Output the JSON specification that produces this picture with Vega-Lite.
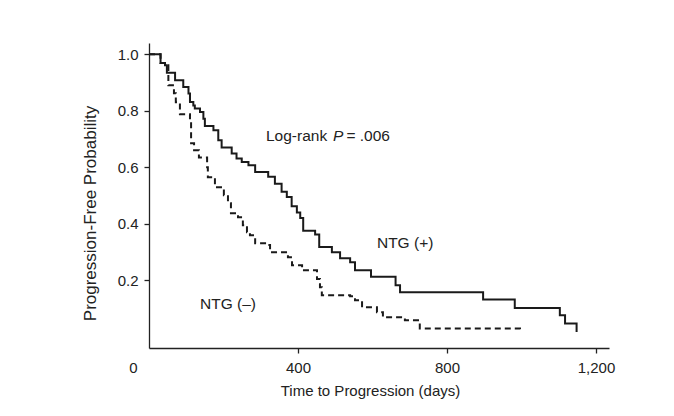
{
  "$schema": "https://vega.github.io/schema/vega-lite/v6.json",
  "width": 460,
  "height": 305,
  "autosize": {"type": "none"},
  "padding": {"left": 149, "top": 43, "right": 65, "bottom": 68},
  "background": "white",
  "config": {
    "view": {"stroke": null},
    "font": "Liberation Sans",
    "axis": {
      "grid": false,
      "domainColor": "#222222",
      "domainWidth": 1.3,
      "tickColor": "#222222",
      "tickWidth": 1.3,
      "tickSize": 5,
      "labelColor": "#222222",
      "labelFont": "Liberation Sans",
      "labelFontSize": 15,
      "labelFlush": false,
      "labelOverlap": false,
      "titleColor": "#222222",
      "titleFont": "Liberation Sans",
      "titleFontWeight": "normal",
      "titleFontSize": 15
    },
    "text": {"font": "Liberation Sans", "fontSize": 15.5, "color": "#222222"}
  },
  "datasets": {
    "km": [
      {"group": "NTG (+)", "time": 0, "surv": 1.0},
      {"group": "NTG (+)", "time": 31, "surv": 0.969},
      {"group": "NTG (+)", "time": 43, "surv": 0.961},
      {"group": "NTG (+)", "time": 48, "surv": 0.935},
      {"group": "NTG (+)", "time": 70, "surv": 0.908},
      {"group": "NTG (+)", "time": 92, "surv": 0.884},
      {"group": "NTG (+)", "time": 106, "surv": 0.861},
      {"group": "NTG (+)", "time": 110, "surv": 0.831},
      {"group": "NTG (+)", "time": 119, "surv": 0.819},
      {"group": "NTG (+)", "time": 123, "surv": 0.808},
      {"group": "NTG (+)", "time": 137, "surv": 0.796},
      {"group": "NTG (+)", "time": 146, "surv": 0.772},
      {"group": "NTG (+)", "time": 150, "surv": 0.746},
      {"group": "NTG (+)", "time": 173, "surv": 0.731},
      {"group": "NTG (+)", "time": 186, "surv": 0.696},
      {"group": "NTG (+)", "time": 195, "surv": 0.67},
      {"group": "NTG (+)", "time": 222, "surv": 0.649},
      {"group": "NTG (+)", "time": 235, "surv": 0.631},
      {"group": "NTG (+)", "time": 249, "surv": 0.619},
      {"group": "NTG (+)", "time": 267, "surv": 0.607},
      {"group": "NTG (+)", "time": 285, "surv": 0.583},
      {"group": "NTG (+)", "time": 320, "surv": 0.566},
      {"group": "NTG (+)", "time": 338, "surv": 0.542},
      {"group": "NTG (+)", "time": 356, "surv": 0.513},
      {"group": "NTG (+)", "time": 370, "surv": 0.495},
      {"group": "NTG (+)", "time": 383, "surv": 0.462},
      {"group": "NTG (+)", "time": 397, "surv": 0.44},
      {"group": "NTG (+)", "time": 406, "surv": 0.42},
      {"group": "NTG (+)", "time": 414, "surv": 0.375},
      {"group": "NTG (+)", "time": 446, "surv": 0.362},
      {"group": "NTG (+)", "time": 457, "surv": 0.318},
      {"group": "NTG (+)", "time": 491, "surv": 0.299},
      {"group": "NTG (+)", "time": 513, "surv": 0.278},
      {"group": "NTG (+)", "time": 540, "surv": 0.264},
      {"group": "NTG (+)", "time": 553, "surv": 0.235},
      {"group": "NTG (+)", "time": 596, "surv": 0.212},
      {"group": "NTG (+)", "time": 662, "surv": 0.182},
      {"group": "NTG (+)", "time": 674, "surv": 0.157},
      {"group": "NTG (+)", "time": 897, "surv": 0.132},
      {"group": "NTG (+)", "time": 982, "surv": 0.102},
      {"group": "NTG (+)", "time": 1103, "surv": 0.076},
      {"group": "NTG (+)", "time": 1117, "surv": 0.047},
      {"group": "NTG (+)", "time": 1148, "surv": 0.017},
      {"group": "NTG (−)", "time": 0, "surv": 1.0},
      {"group": "NTG (−)", "time": 31, "surv": 0.969},
      {"group": "NTG (−)", "time": 43, "surv": 0.961},
      {"group": "NTG (−)", "time": 52, "surv": 0.89},
      {"group": "NTG (−)", "time": 67, "surv": 0.862},
      {"group": "NTG (−)", "time": 72, "surv": 0.83},
      {"group": "NTG (−)", "time": 83, "surv": 0.788},
      {"group": "NTG (−)", "time": 110, "surv": 0.756},
      {"group": "NTG (−)", "time": 113, "surv": 0.685},
      {"group": "NTG (−)", "time": 121, "surv": 0.66},
      {"group": "NTG (−)", "time": 134, "surv": 0.635},
      {"group": "NTG (−)", "time": 156, "surv": 0.6},
      {"group": "NTG (−)", "time": 158, "surv": 0.565},
      {"group": "NTG (−)", "time": 177, "surv": 0.529},
      {"group": "NTG (−)", "time": 201, "surv": 0.501},
      {"group": "NTG (−)", "time": 212, "surv": 0.473},
      {"group": "NTG (−)", "time": 220, "surv": 0.437},
      {"group": "NTG (−)", "time": 239, "surv": 0.423},
      {"group": "NTG (−)", "time": 252, "surv": 0.395},
      {"group": "NTG (−)", "time": 263, "surv": 0.37},
      {"group": "NTG (−)", "time": 271, "surv": 0.359},
      {"group": "NTG (−)", "time": 285, "surv": 0.331},
      {"group": "NTG (−)", "time": 318, "surv": 0.325},
      {"group": "NTG (−)", "time": 325, "surv": 0.299},
      {"group": "NTG (−)", "time": 373, "surv": 0.281},
      {"group": "NTG (−)", "time": 384, "surv": 0.253},
      {"group": "NTG (−)", "time": 411, "surv": 0.235},
      {"group": "NTG (−)", "time": 451, "surv": 0.204},
      {"group": "NTG (−)", "time": 459, "surv": 0.175},
      {"group": "NTG (−)", "time": 464, "surv": 0.147},
      {"group": "NTG (−)", "time": 540, "surv": 0.143},
      {"group": "NTG (−)", "time": 553, "surv": 0.129},
      {"group": "NTG (−)", "time": 572, "surv": 0.104},
      {"group": "NTG (−)", "time": 612, "surv": 0.087},
      {"group": "NTG (−)", "time": 628, "surv": 0.069},
      {"group": "NTG (−)", "time": 687, "surv": 0.058},
      {"group": "NTG (−)", "time": 727, "surv": 0.029},
      {"group": "NTG (−)", "time": 990, "surv": 0.029},
      {"group": "NTG (−)", "time": 996, "surv": 0.017}
    ]
  },
  "layer": [
    {
      "data": {"name": "km"},
      "mark": {"type": "line", "interpolate": "step-after", "strokeWidth": 2, "color": "#1a1a1a"},
      "encoding": {
        "x": {
          "field": "time",
          "type": "quantitative",
          "scale": {"domain": [0, 1235], "nice": false, "zero": false},
          "axis": {
            "values": [0, 400, 800, 1200],
            "format": ",d",
            "title": "Time to Progression (days)",
            "labelPadding": 7,
            "labelOffset": {"condition": {"test": "datum.value === 0", "value": -16}, "value": 0},
            "tickOpacity": {"condition": {"test": "datum.value === 0", "value": 0}, "value": 1},
            "titleX": 221,
            "titleY": 47,
            "titleBaseline": "alphabetic"
          }
        },
        "y": {
          "field": "surv",
          "type": "quantitative",
          "scale": {"domain": [-0.04, 1.04], "nice": false, "zero": false},
          "axis": {
            "values": [0.2, 0.4, 0.6, 0.8, 1.0],
            "format": ".1f",
            "title": "Progression-Free Probability",
            "titleFontSize": 17,
            "labelPadding": 6,
            "titleAngle": -90,
            "titleX": -54,
            "titleY": 170,
            "titleAlign": "center",
            "titleBaseline": "alphabetic"
          }
        },
        "detail": {"field": "group", "type": "nominal"},
        "strokeDash": {
          "field": "group",
          "type": "nominal",
          "scale": {"domain": ["NTG (+)", "NTG (−)"], "range": [[1, 0], [6, 4]]},
          "legend": null
        }
      }
    },
    {
      "data": {"values": [{"label": "Log-rank"}]},
      "mark": {"type": "text", "align": "left", "baseline": "alphabetic"},
      "encoding": {"text": {"field": "label"}, "x": {"datum": 314}, "y": {"datum": 0.692}}
    },
    {
      "data": {"values": [{"label": "P"}]},
      "mark": {"type": "text", "align": "left", "baseline": "alphabetic", "fontStyle": "italic"},
      "encoding": {"text": {"field": "label"}, "x": {"datum": 494}, "y": {"datum": 0.692}}
    },
    {
      "data": {"values": [{"label": "= .006"}]},
      "mark": {"type": "text", "align": "left", "baseline": "alphabetic"},
      "encoding": {"text": {"field": "label"}, "x": {"datum": 530}, "y": {"datum": 0.692}}
    },
    {
      "data": {"values": [{"label": "NTG (+)"}]},
      "mark": {"type": "text", "align": "left", "baseline": "alphabetic"},
      "encoding": {"text": {"field": "label"}, "x": {"datum": 612}, "y": {"datum": 0.313}}
    },
    {
      "data": {"values": [{"label": "NTG (–)"}]},
      "mark": {"type": "text", "align": "left", "baseline": "alphabetic"},
      "encoding": {"text": {"field": "label"}, "x": {"datum": 137}, "y": {"datum": 0.097}}
    }
  ]
}
